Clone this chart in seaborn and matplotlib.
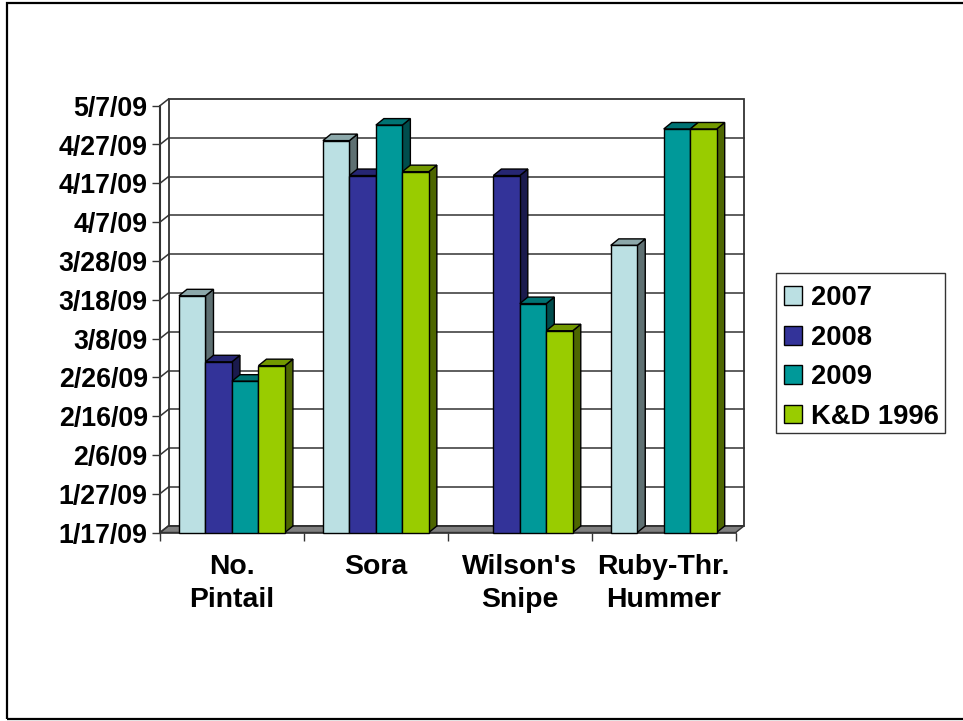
import matplotlib
matplotlib.use("Agg")
import matplotlib.pyplot as plt
from matplotlib.patches import Polygon, Rectangle
from matplotlib.transforms import Affine2D
from matplotlib.colors import to_rgb
import pandas as pd
import seaborn as sns

species = ["No.\nPintail", "Sora", "Wilson's\nSnipe", "Ruby-Thr.\nHummer"]
series = ["2007", "2008", "2009", "K&D 1996"]
dates_2007 = ["2009-03-19", "2009-04-28", None, "2009-04-01"]
dates_2008 = ["2009-03-02", "2009-04-19", "2009-04-19", None]
dates_2009 = ["2009-02-25", "2009-05-02", "2009-03-17", "2009-05-01"]
dates_kd = ["2009-03-01", "2009-04-20", "2009-03-10", "2009-05-01"]
colors = ["#BBE0E3", "#333399", "#009999", "#99CC00"]
y_labels = ["1/17/09", "1/27/09", "2/6/09", "2/16/09", "2/26/09", "3/8/09",
            "3/18/09", "3/28/09", "4/7/09", "4/17/09", "4/27/09", "5/7/09"]

W, H = 963, 721
start = pd.Timestamp("2009-01-17")
rows = []
for name, vals in zip(series, [dates_2007, dates_2008, dates_2009, dates_kd]):
    for sp, v in zip(species, vals):
        days = (pd.Timestamp(v) - start).days if v else float("nan")
        rows.append({"species": sp, "series": name, "days": days})
df = pd.DataFrame(rows)

plt.rcParams["font.family"] = ["Liberation Sans", "DejaVu Sans"]
plt.rcParams["font.weight"] = "bold"

fig = plt.figure(figsize=(W / 100, H / 100), dpi=100)
ax = fig.add_axes([160 / W, 1 - 532.5 / H, 575.7 / W, 426.8 / H])
sns.barplot(data=df, x="species", y="days", hue="series", hue_order=series,
            palette=colors, width=0.736, gap=0, saturation=1, edgecolor="black",
            linewidth=1, ax=ax)
ax.set_xlim(-0.5, 3.5)
ax.set_ylim(0, 110)
ax.set_xlabel("")
ax.set_ylabel("")
for s in ax.spines.values():
    s.set_visible(False)

# offsets for the fake 3D look, in pixels
wall_dx, wall_dy = 8.5, 6.7
wall = ax.transData + Affine2D().translate(wall_dx, wall_dy)
depth = ax.transData + Affine2D().translate(8, 6.5)
line_c = "#333333"
a = ax.transData.transform

# floor and back wall
ax.add_patch(Polygon([a((-0.5, 0)), a((3.5, 0)), wall.transform((3.5, 0)), wall.transform((-0.5, 0))],
                     transform=None, facecolor="#808080", edgecolor=line_c, linewidth=1,
                     zorder=1, clip_on=False))
ax.add_patch(Rectangle((-0.5, 0), 4, 110, transform=wall, facecolor="none",
                       edgecolor=line_c, linewidth=1.3, zorder=1, clip_on=False))
ticks = list(range(0, 120, 10))
for t in ticks[1:-1]:
    ax.plot([-0.5, 3.5], [t, t], transform=wall, color=line_c, lw=1.1, zorder=1,
            clip_on=False)
for t in ticks:
    x0, y0 = a((-0.5, t))
    ax.plot([x0, x0 + wall_dx], [y0, y0 + wall_dy], transform=None, color=line_c, lw=1.1,
            zorder=1, clip_on=False)
ax.plot([-0.5, -0.5], [0, 110], color=line_c, lw=1.5, zorder=1, clip_on=False)
ax.plot([-0.5, 3.5], [0, 0], color=line_c, lw=1.2, zorder=1.5, clip_on=False)

# bars: side and top faces come from the patches seaborn drew
bars = [p for c in ax.containers for p in c if p.get_height() > 0]
bars.sort(key=lambda p: p.get_x())
z = 3
d = depth.transform
for p in bars:
    x, w, h = p.get_x(), p.get_width(), p.get_height()
    rgb = to_rgb(p.get_facecolor())
    side = tuple(c * 0.5 for c in rgb)
    top = tuple(c * 0.75 for c in rgb)
    ax.add_patch(Polygon([a((x + w, 0)), a((x + w, h)), d((x + w, h)), d((x + w, 0))],
                         transform=None, facecolor=side, edgecolor="black", lw=1,
                         zorder=z, clip_on=False))
    ax.add_patch(Polygon([a((x, h)), a((x + w, h)), d((x + w, h)), d((x, h))],
                         transform=None, facecolor=top, edgecolor="black", lw=1,
                         zorder=z, clip_on=False))
    p.set_zorder(z + 1)
    p.set_clip_on(False)
    z += 2

ax.set_yticks(ticks, y_labels)
ax.set_xticks(range(4), species)
ax.set_xticks([-0.5, 0.5, 1.5, 2.5, 3.5], minor=True)
ax.tick_params(axis="y", length=5.76, width=1, color=line_c, pad=3, labelsize=19.3)
ax.tick_params(axis="x", which="major", length=0, pad=15.5, labelsize=20.4)
ax.tick_params(axis="x", which="minor", length=6, width=1, color=line_c)
for lab in ax.get_xticklabels():
    lab.set_linespacing(1.36)

# legend box drawn apart so the rows can sit a bit lower in it
sns.move_legend(ax, "upper left", bbox_to_anchor=(776 / W, 1 - 277.5 / H),
                bbox_transform=fig.transFigure, title=None, frameon=False,
                fontsize=19.7, handlelength=0.675, handleheight=0.675, labelspacing=0.49,
                handletextpad=0.32, borderpad=0.29, borderaxespad=0)
fig.add_artist(Rectangle((776 / W, 1 - 433 / H), 169 / W, 159.5 / H, transform=fig.transFigure,
                         facecolor="white", edgecolor="#333333", linewidth=1, zorder=-1))

# slide border, its right edge runs off the picture
fig.add_artist(Rectangle((7 / W, 2 / H), 1000 / W, 716 / H, transform=fig.transFigure,
                         facecolor="none", edgecolor="black", linewidth=1.6, clip_on=False))
fig.savefig("out.png", dpi=100)
